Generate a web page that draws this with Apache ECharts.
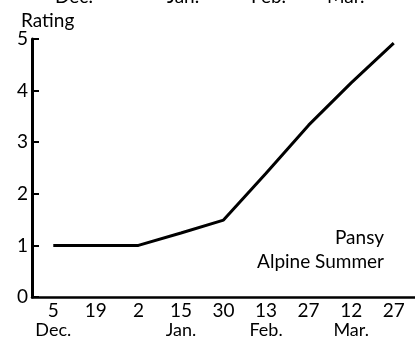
<!DOCTYPE html>
<html><head><meta charset="utf-8">
<script src="https://cdn.jsdelivr.net/npm/echarts@6/dist/echarts.min.js"></script>
<style>html,body{margin:0;padding:0;background:#fff}#c{width:415px;height:340px}</style>
</head><body><div id="c"></div>
<script>
var days = ['5','19','2','15','30','13','27','12','27'];
var months = ['Dec.','','','Jan.','','Feb.','','Mar.',''];
var ratings = [1.0, 1.0, 1.0, 1.24, 1.49, 2.4, 3.33, 4.15, 4.92];
var yTicks = [0,1,2,3,4,5];
var topMonths = ['Dec.','Jan.','Feb.','Mar.'];
var legendLines = ['Pansy','Alpine Summer'];

var FONT = 'Lato';
var chart = echarts.init(document.getElementById('c'));
var cats = days.map(function(d,i){return i;});
chart.setOption({
  animation:false,
  backgroundColor:'#fff',
  grid:{left:32,right:0,top:39,bottom:43},
  xAxis:{type:'category',data:cats,boundaryGap:true,
    axisLine:{lineStyle:{color:'#000',width:2.5}},
    axisTick:{alignWithLabel:true,inside:true,length:7,lineStyle:{color:'#000',width:2}},
    axisLabel:{interval:0,margin:4,color:'#000',fontFamily:FONT,
      formatter:function(v,i){var m=months[i];return m?('{d|'+days[i]+'}\n{m|'+m+'}'):('{d|'+days[i]+'}');},
      rich:{d:{fontSize:19,fontFamily:FONT,color:'#000',lineHeight:19},m:{fontSize:18,fontFamily:FONT,color:'#000',lineHeight:21}}}
  },
  yAxis:{type:'value',min:0,max:5,interval:1,
    axisLine:{show:true,lineStyle:{color:'#000',width:3}},
    axisTick:{show:true,inside:true,length:7,lineStyle:{color:'#000',width:2}},
    splitLine:{show:false},
    axisLabel:{margin:4,color:'#000',fontFamily:FONT,fontSize:19,
      formatter:function(v){return yTicks.indexOf(v)>=0?String(v):'';}}
  },
  series:[{type:'line',data:ratings,symbol:'none',lineStyle:{color:'#000',width:3},z:3}],
  graphic:[
    {type:'text',left:21,top:11,style:{text:'Rating',font:'19px '+FONT,fill:'#000'}},
    {type:'text',left:55,top:-13,style:{text:topMonths[0],font:'19px '+FONT,fill:'#000'}},
    {type:'text',left:167,top:-13,style:{text:topMonths[1],font:'19px '+FONT,fill:'#000'}},
    {type:'text',left:251,top:-13,style:{text:topMonths[2],font:'19px '+FONT,fill:'#000'}},
    {type:'text',left:327,top:-13,style:{text:topMonths[3],font:'19px '+FONT,fill:'#000'}},
    {type:'text',right:31,top:228,style:{text:legendLines[0],font:'19px '+FONT,fill:'#000',textAlign:'right'}},
    {type:'text',right:31,top:252,style:{text:legendLines[1],font:'19px '+FONT,fill:'#000',textAlign:'right'}}
  ]
});
</script></body></html>
